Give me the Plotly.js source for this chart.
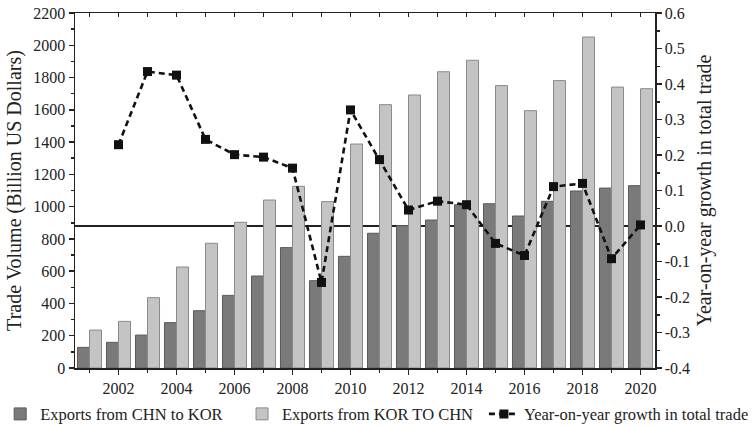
<!DOCTYPE html>
<html>
<head>
<meta charset="utf-8">
<script src="https://cdn.plot.ly/plotly-3.0.1.min.js"></script>
<style>html,body{margin:0;padding:0;background:#fff;}#chart{width:754px;height:427px;}</style>
</head>
<body>
<div id="chart"></div>
<script>
const years = [2001,2002,2003,2004,2005,2006,2007,2008,2009,2010,2011,2012,2013,2014,2015,2016,2017,2018,2019,2020];
const exportsChnToKor = [128,159,204,281,355,450,570,746,541,692,835,882,917,1012,1018,942,1033,1097,1115,1130];
const exportsKorToChn = [235,289,436,626,773,903,1041,1126,1031,1388,1632,1692,1836,1907,1750,1595,1781,2051,1741,1731];
const growthYears = [2002,2003,2004,2005,2006,2007,2008,2009,2010,2011,2012,2013,2014,2015,2016,2017,2018,2019,2020];
const growth = [0.229,0.435,0.425,0.244,0.201,0.194,0.163,-0.159,0.327,0.187,0.045,0.070,0.060,-0.049,-0.083,0.111,0.120,-0.092,0.003];
const rightTickVals = [-0.4,-0.3,-0.2,-0.1,0,0.1,0.2,0.3,0.4,0.5,0.6];
const rightTickText = ["-0.4","-0.3","-0.2","-0.1","0.0","0.1","0.2","0.3","0.4","0.5","0.6"];
const rightMinorVals = [-0.35,-0.25,-0.15,-0.05,0.05,0.15,0.25,0.35,0.45,0.55];

const font = "Liberation Serif, Times New Roman, serif";
const ink = '#222';

const traces = [
  {type:'bar', name:'Exports from CHN to KOR', x:years, y:exportsChnToKor, legend:'legend',
   marker:{color:'#7a7a7a', line:{color:'#5a5a5a', width:1}}},
  {type:'bar', name:'Exports from KOR TO CHN', x:years, y:exportsKorToChn, legend:'legend2',
   marker:{color:'#c4c4c4', line:{color:'#8a8a8a', width:1}}},
  {type:'scatter', mode:'lines+markers', name:'Year-on-year growth in total trade', legend:'legend3',
   x:growthYears, y:growth, xaxis:'x2', yaxis:'y2',
   line:{color:'#111', width:2.6, dash:'6px,4px'},
   marker:{symbol:'square', size:9, color:'#111'}}
];

const tickBase = {ticks:'outside', ticklen:5, tickwidth:1.5, tickcolor:ink,
                  showline:true, linecolor:ink, linewidth:1.5, showgrid:false, zeroline:false,
                  tickfont:{family:font, size:16, color:ink}};

const legendBase = {orientation:'h', xanchor:'left', y:-0.13, yanchor:'middle',
                    font:{family:font, size:16.5, color:ink}, itemwidth:30,
                    bgcolor:'rgba(0,0,0,0)'};

const layout = {
  width:754, height:427,
  margin:{l:75, r:99, t:13, b:59, autoexpand:false},
  paper_bgcolor:'#fff', plot_bgcolor:'#fff',
  font:{family:font, size:16, color:ink},
  barmode:'group', bargap:0.17, bargroupgap:0,
  showlegend:true,
  legend:Object.assign({}, legendBase, {x:-0.129}),
  legend2:Object.assign({}, legendBase, {x:0.288}),
  legend3:Object.assign({}, legendBase, {x:0.705}),
  xaxis:Object.assign({}, tickBase, {range:[2000.5,2020.5], tick0:2002, dtick:2,
         minor:{dtick:1, tick0:2001, ticks:'outside', ticklen:3, tickwidth:1.5, tickcolor:ink, showgrid:false}}),
  xaxis2:{overlaying:'x', side:'top', anchor:'y', range:[2000.5,2020.5], tick0:2002, dtick:2,
          showgrid:false, zeroline:false, showticklabels:false,
          showline:true, linecolor:ink, linewidth:1.5,
          ticks:'inside', ticklen:4, tickwidth:1.5, tickcolor:ink,
          minor:{dtick:1, tick0:2001, ticks:'inside', ticklen:4, tickwidth:1.5, tickcolor:ink, showgrid:false}},
  yaxis:Object.assign({}, tickBase, {range:[0,2200], dtick:200,
         minor:{dtick:100, ticks:'outside', ticklen:3, tickwidth:1.5, tickcolor:ink, showgrid:false},
         title:{text:'Trade Volume (Billion US Dollars)', font:{family:font, size:20, color:ink}, standoff:6}}),
  yaxis2:Object.assign({}, tickBase, {overlaying:'y', side:'right', anchor:'x2', range:[-0.4,0.6],
          tickvals:rightTickVals, ticktext:rightTickText,
          zeroline:true, zerolinecolor:ink, zerolinewidth:1.3,
          minor:{tickvals:rightMinorVals, ticks:'outside', ticklen:3, tickwidth:1.5, tickcolor:ink, showgrid:false},
          title:{text:'Year-on-year growth in total trade', font:{family:font, size:20, color:ink}, standoff:8}})
};

Plotly.newPlot('chart', traces, layout, {displayModeBar:false, staticPlot:true});
</script>
</body>
</html>
